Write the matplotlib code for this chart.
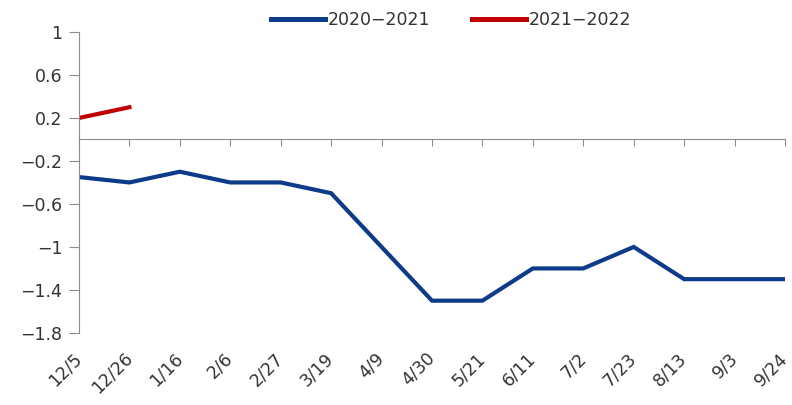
import matplotlib.pyplot as plt
import matplotlib.transforms as mtransforms

# Data
dates = ["12/5", "12/26", "1/16", "2/6", "2/27", "3/19", "4/9", "4/30",
         "5/21", "6/11", "7/2", "7/23", "8/13", "9/3", "9/24"]
season_2020_2021 = [-0.35, -0.4, -0.3, -0.4, -0.4, -0.5, -1.0, -1.5,
                    -1.5, -1.2, -1.2, -1.0, -1.3, -1.3, -1.3]
season_2021_2022 = [0.2, 0.3]
y_ticks = [-1.8, -1.4, -1.0, -0.6, -0.2, 0.2, 0.6, 1.0]
y_labels = ["\u22121.8", "\u22121.4", "\u22121", "\u22120.6", "\u22120.2",
            "0.2", "0.6", "1"]

BLUE = "#0e3a8a"
RED = "#c00000"
GRAY = "#8c8c8c"
TEXT = "#333333"
FS = 12.5

plt.rcParams['font.family'] = ['DejaVu Sans']

fig = plt.figure(figsize=(7.92, 4.05), dpi=100)
ax = fig.add_axes([0.0997, 0.178, 0.8915, 0.743])

x = list(range(len(dates)))
ax.plot(x, season_2020_2021, color=BLUE, lw=3.0, label="2020\u22122021",
        solid_joinstyle="miter")
ax.plot(x[:len(season_2021_2022)], season_2021_2022, color=RED, lw=3.0,
        label="2021\u22122022")

ax.set_xlim(0, len(dates) - 1)
ax.set_ylim(-1.8, 1.0)

# y axis
ax.set_yticks(y_ticks)
ax.set_yticklabels(y_labels, fontsize=FS, color=TEXT)
ax.tick_params(axis="y", direction="out", length=7, color=GRAY, pad=5)

# x axis line sits at zero, labels go below the plot
ax.spines["bottom"].set_position(("data", 0))
ax.spines["bottom"].set_color(GRAY)
ax.spines["left"].set_color(GRAY)
ax.spines["top"].set_visible(False)
ax.spines["right"].set_visible(False)
ax.set_xticks(x)
ax.set_xticklabels([])
ax.tick_params(axis="x", direction="out", length=5, color=GRAY)

trans = mtransforms.blended_transform_factory(ax.transData, ax.transAxes)
for xi, lab in zip(x, dates):
    ax.text(xi, -0.075, lab, transform=trans, rotation=45,
            ha="right", va="center", rotation_mode="anchor",
            fontsize=FS, color=TEXT)

leg = ax.legend(loc="center", bbox_to_anchor=(0.527, 1.04), ncol=2,
                frameon=False, fontsize=FS, handlelength=3.1,
                handletextpad=0.15, columnspacing=2.4, borderaxespad=0)
for line in leg.get_lines():
    line.set_linewidth(3.6)
for t in leg.get_texts():
    t.set_color(TEXT)

fig.savefig("out.png", dpi=100)
